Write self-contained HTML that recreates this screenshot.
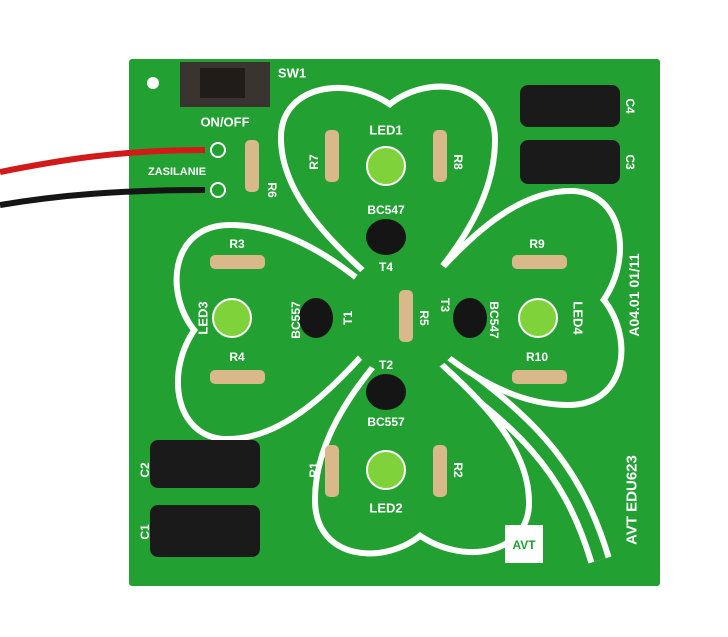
<!DOCTYPE html>
<html><head><style>html,body{margin:0;padding:0;background:#fff;width:728px;height:637px;overflow:hidden}
text{font-family:"Liberation Sans",sans-serif;fill:#fff;font-weight:bold;text-anchor:middle;dominant-baseline:central}</style></head><body>
<svg width="728" height="637" viewBox="0 0 728 637" xmlns="http://www.w3.org/2000/svg">
<defs>
<g id="leaf"><path d="M405,305 C360,262 282,205 284,135 C286,88 348,78 390,108 C425,78 492,82 492,140 C492,205 445,262 405,305 Z"/></g>
<g id="clover">
<use href="#leaf"/>
<use href="#leaf" transform="translate(-12 0) rotate(90 405 315)"/>
<use href="#leaf" transform="rotate(180 405 320)"/>
<use href="#leaf" transform="rotate(270 405 315)"/>
</g>
</defs>
<rect x="129" y="59" width="531" height="527" fill="#22a032" rx="3"/>
<circle cx="153" cy="83" r="6" fill="#fff"/>
<path d="M440,360 C520,420 570,460 600,560" stroke="#fff" stroke-width="24" fill="none"/>
<path d="M440,360 C520,420 570,460 600,560" stroke="#22a032" stroke-width="12" fill="none"/>
<g fill="#fff" stroke="#fff" stroke-width="12"><use href="#clover"/></g>
<g fill="#22a032" stroke="none"><use href="#clover"/></g>
<circle cx="405" cy="315" r="62" fill="#22a032"/>
<rect x="180" y="62" width="90" height="45" fill="#3a3430"/>
<rect x="200" y="68" width="45" height="30" fill="#201c1a"/>
<text x="225" y="122" font-size="13">ON/OFF</text>
<text x="292" y="73" font-size="13">SW1</text>
<path d="M0,172 C60,160 120,150 205,150" stroke="#d21a1a" stroke-width="6" fill="none"/>
<path d="M0,205 C60,195 120,190 205,190" stroke="#151515" stroke-width="6" fill="none"/>
<circle cx="218" cy="150" r="7" fill="none" stroke="#fff" stroke-width="2"/>
<circle cx="218" cy="190" r="7" fill="none" stroke="#fff" stroke-width="2"/>
<text x="177" y="172" font-size="11">ZASILANIE</text>
<g fill="#1a1a1a"><rect x="520" y="85" width="100" height="42" rx="8"/><rect x="520" y="140" width="100" height="44" rx="8"/>
<rect x="150" y="440" width="110" height="48" rx="8"/><rect x="150" y="505" width="110" height="52" rx="8"/></g>
<text x="630" y="106" font-size="12" transform="rotate(90 630 106)">C4</text>
<text x="630" y="162" font-size="12" transform="rotate(90 630 162)">C3</text>
<text x="145" y="470" font-size="12" transform="rotate(-90 145 470)">C2</text>
<text x="145" y="532" font-size="12" transform="rotate(-90 145 532)">C1</text>
<g fill="#7fd23a" stroke="#fff" stroke-width="2">
<circle cx="386" cy="166" r="19"/><circle cx="232" cy="318" r="19"/><circle cx="538" cy="318" r="19"/><circle cx="386" cy="470" r="19"/></g>
<text x="386" y="130" font-size="13">LED1</text>
<text x="386" y="508" font-size="13">LED2</text>
<text x="203" y="318" font-size="13" transform="rotate(-90 203 318)">LED3</text>
<text x="578" y="318" font-size="13" transform="rotate(90 578 318)">LED4</text>
<g fill="#151515"><ellipse cx="386" cy="237" rx="20" ry="18"/><ellipse cx="386" cy="392" rx="20" ry="18"/>
<ellipse cx="316" cy="318" rx="17" ry="20"/><ellipse cx="470" cy="318" rx="17" ry="20"/></g>
<text x="386" y="210" font-size="12">BC547</text><text x="386" y="267" font-size="12">T4</text>
<text x="386" y="365" font-size="12">T2</text><text x="386" y="422" font-size="12">BC557</text>
<text x="296" y="320" font-size="12" transform="rotate(-90 296 320)">BC557</text>
<text x="348" y="318" font-size="12" transform="rotate(-90 348 318)">T1</text>
<text x="494" y="320" font-size="12" transform="rotate(90 494 320)">BC547</text>
<text x="445" y="305" font-size="12" transform="rotate(90 445 305)">T3</text>
<g fill="#d9b98a">
<rect x="245" y="140" width="14" height="52" rx="5"/>
<rect x="325" y="130" width="14" height="52" rx="5"/><rect x="433" y="130" width="14" height="52" rx="5"/>
<rect x="325" y="445" width="14" height="52" rx="5"/><rect x="433" y="445" width="14" height="52" rx="5"/>
<rect x="210" y="255" width="55" height="14" rx="5"/><rect x="210" y="370" width="55" height="14" rx="5"/>
<rect x="512" y="255" width="55" height="14" rx="5"/><rect x="512" y="370" width="55" height="14" rx="5"/>
<rect x="399" y="290" width="14" height="52" rx="5"/></g>
<text x="237" y="244" font-size="12">R3</text><text x="237" y="357" font-size="12">R4</text>
<text x="537" y="244" font-size="12">R9</text><text x="537" y="357" font-size="12">R10</text>
<text x="314" y="162" font-size="12" transform="rotate(-90 314 162)">R7</text>
<text x="458" y="162" font-size="12" transform="rotate(90 458 162)">R8</text>
<text x="272" y="190" font-size="12" transform="rotate(90 272 190)">R6</text>
<text x="314" y="470" font-size="12" transform="rotate(-90 314 470)">R1</text>
<text x="458" y="470" font-size="12" transform="rotate(90 458 470)">R2</text>
<text x="424" y="318" font-size="12" transform="rotate(90 424 318)">R5</text>
<text x="634" y="295" font-size="14" transform="rotate(-90 634 295)">A04.01  01/11</text>
<text x="632" y="500" font-size="15" transform="rotate(-90 632 500)">AVT EDU623</text>
<rect x="505" y="525" width="38" height="38" fill="#fff"/>
<text x="524" y="545" font-size="12" style="fill:#22a032">AVT</text>
</svg></body></html>
